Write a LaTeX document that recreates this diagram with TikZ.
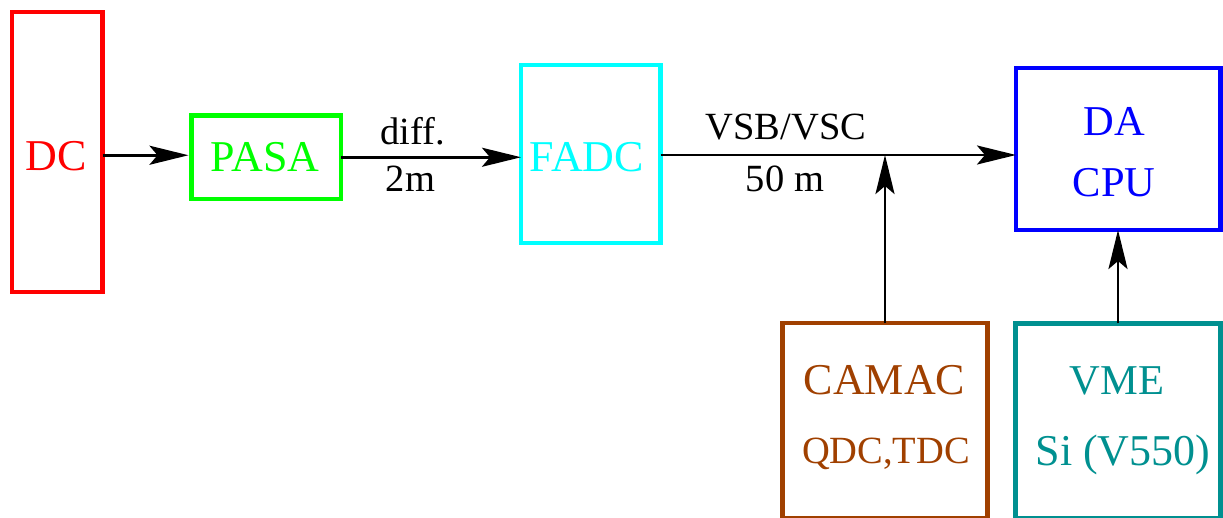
\documentclass[tikz,border=0pt]{standalone}
\usepackage{fontspec}
\setmainfont{Liberation Serif}
\usetikzlibrary{arrows.meta,calc}
\definecolor{xbrown}{HTML}{A04000}
\definecolor{xteal}{HTML}{009090}
\definecolor{xgreen}{HTML}{00FF00}
\definecolor{xcyan}{HTML}{00FFFF}
\definecolor{xblue}{HTML}{0000FF}
\definecolor{xred}{HTML}{FF0000}
\tikzset{
  unitbox/.style={draw=#1, line width=4.5pt, inner sep=0pt, outer sep=0pt, fill=none},
  bigtxt/.style={anchor=base, inner sep=0pt, font=\fontsize{44}{44}\selectfont},
  midtxt/.style={anchor=base, inner sep=0pt, font=\fontsize{42.5}{42.5}\selectfont},
  smalltxt/.style={anchor=base, inner sep=0pt, font=\fontsize{38.5}{38.5}\selectfont},
  arr/.style={line width=2.8pt, -{Stealth[length=39pt, width=19pt, inset=8pt]}},
}
\begin{document}
\begin{tikzpicture}[x=1pt,y=-1pt]
\useasboundingbox (0,0) rectangle (1223,518);
\clip (0,0) rectangle (1223,518);
% boxes
\node[unitbox=xred, minimum width=90.5pt, minimum height=280pt] (dc) at (57.25,152) {};
\node[unitbox=xgreen, minimum width=149.5pt, minimum height=83.5pt] (pasa) at (266.25,157.25) {};
\node[unitbox=xcyan, minimum width=139.5pt, minimum height=178pt] (fadc) at (590.75,154) {};
\node[unitbox=xblue, minimum width=204.5pt, minimum height=162pt] (da) at (1118.25,149) {};
\node[unitbox=xbrown, minimum width=205pt, minimum height=195.5pt] (camac) at (885,420.75) {};
\node[unitbox=xteal, minimum width=205pt, minimum height=195pt] (vme) at (1118,421) {};
% texts
\node[bigtxt, text=xred] (dct) at (56.5,171) {DC};
\node[bigtxt, text=xgreen] (pasat) at (265,172) {PASA};
\node[bigtxt, text=xcyan] (fadct) at (587,172) {FADC};
\node[midtxt, text=xblue] (dat) at (1114,136) {DA};
\node[midtxt, text=xblue] (cput) at (1114,197) {CPU};
\node[bigtxt, text=xbrown] (camact) at (884.5,394) {CAMAC};
\node[smalltxt, text=xbrown] (qdct) at (886,463) {QDC,TDC};
\node[midtxt, text=xteal] (vmet) at (1117,394) {VME};
\node[bigtxt, text=xteal] (sit) at (1123,465) {Si (V550)};
\node[smalltxt] (l1) at (413,145) {diff.};
\node[smalltxt] (l2) at (410.5,192) {2m};
\node[smalltxt] (l3) at (786,140) {VSB/VSC};
\node[smalltxt] (l4) at (785,192) {50 m};
% connectors
\coordinate (j) at (camac.north |- 0,155);
\draw[arr, shorten >=3pt] ([yshift=2pt]pasa.west -| dc.east) -- ([yshift=2pt]pasa.west);
\draw[arr] (pasa.east) -- (pasa.east -| fadc.west);
\draw[arr] (fadc.east |- j) -- (j -| da.west);
\draw[arr] (camac.north) -- (j);
\draw[arr] (vme.north) -- (vme.north |- da.south);
\end{tikzpicture}
\end{document}
